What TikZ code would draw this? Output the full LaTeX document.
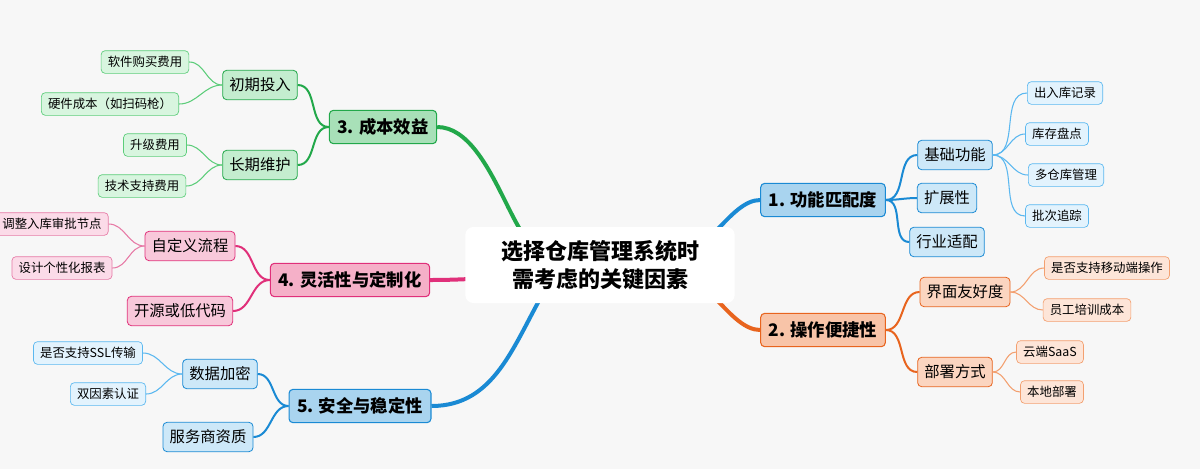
\documentclass[tikz,border=0pt]{standalone}
\usepackage{fontspec}
\setmainfont{Noto Sans CJK SC}
\definecolor{bgc}{HTML}{F7F7F7}
\definecolor{blueline}{HTML}{1A8AD4}
\definecolor{bluefill}{HTML}{A9D4EF}
\definecolor{bluekid}{HTML}{CDE8F8}
\definecolor{blueleaf}{HTML}{E3F3FD}
\definecolor{blueleafline}{HTML}{5BB8F0}
\definecolor{orgline}{HTML}{E8641E}
\definecolor{orgfill}{HTML}{F8C4A8}
\definecolor{orgkid}{HTML}{FBD5C0}
\definecolor{orgleaf}{HTML}{FDE5D8}
\definecolor{orgleafline}{HTML}{F3A070}
\definecolor{grnline}{HTML}{22A84A}
\definecolor{grnfill}{HTML}{A8E0B8}
\definecolor{grnkid}{HTML}{C4EDCF}
\definecolor{grnleaf}{HTML}{D8F5DF}
\definecolor{grnleafline}{HTML}{5CCD7A}
\definecolor{pnkline}{HTML}{E0307A}
\definecolor{pnkfill}{HTML}{F5B0C8}
\definecolor{pnkkid}{HTML}{F8C8DA}
\definecolor{pnkleaf}{HTML}{FBDBE8}
\definecolor{pnkleafline}{HTML}{E77AA6}
\begin{document}
\begin{tikzpicture}[x=0.75pt,y=-0.75pt,
    centerbox/.style={draw=none,fill=white,rounded corners=6pt,align=center,
        font=\fontsize{16.5}{21}\selectfont\bfseries,minimum width=202pt,minimum height=57pt},
    branchbox/.style={draw=#1line,fill=#1fill,line width=0.8pt,rounded corners=3pt,
        font=\fontsize{13}{15}\selectfont\bfseries,minimum height=25pt,inner xsep=6pt},
    kidbox/.style={draw=#1line,fill=#1kid,line width=0.6pt,rounded corners=3pt,
        font=\fontsize{11.5}{13}\selectfont,minimum height=22pt,inner xsep=5pt},
    leafbox/.style={draw=#1leafline,fill=#1leaf,line width=0.5pt,rounded corners=3pt,
        font=\fontsize{9.3}{11}\selectfont,minimum height=17pt,inner xsep=5pt},
    mainlink/.style={draw=#1line,line width=3pt},
    kidlink/.style={draw=#1line,line width=1.5pt},
    leaflink/.style={draw=#1leafline,line width=0.8pt}]

% Background
\fill[bgc] (0,0) rectangle (1200,469);
\useasboundingbox (0,0) rectangle (1200,469);

% Branches
\node[branchbox=blue] (b1) at (823,200) {1. 功能匹配度};
\node[branchbox=org] (b2) at (823,330) {2. 操作便捷性};
\node[branchbox=grn] (b3) at (383,127) {3. 成本效益};
\node[branchbox=pnk] (b4) at (350,280) {4. 灵活性与定制化};
\node[branchbox=blue] (b5) at (360,406) {5. 安全与稳定性};

% Children of 1
\node[kidbox=blue] (k11) at (955,155) {基础功能};
\node[kidbox=blue] (k12) at (947,198) {扩展性};
\node[kidbox=blue] (k13) at (947,242) {行业适配};
\node[leafbox=blue] (l111) at (1065,93) {出入库记录};
\node[leafbox=blue] (l112) at (1057,134) {库存盘点};
\node[leafbox=blue] (l113) at (1066,175) {多仓库管理};
\node[leafbox=blue] (l114) at (1057,216) {批次追踪};

% Children of 2
\node[kidbox=org] (k21) at (965,292) {界面友好度};
\node[kidbox=org] (k22) at (955,372) {部署方式};
\node[leafbox=org] (l211) at (1107,268) {是否支持移动端操作};
\node[leafbox=org] (l212) at (1087,310) {员工培训成本};
\node[leafbox=org] (l221) at (1050,352) {云端SaaS};
\node[leafbox=org] (l222) at (1052,392) {本地部署};

% Children of 3
\node[kidbox=grn] (k31) at (260,85) {初期投入};
\node[kidbox=grn] (k32) at (260,165) {长期维护};
\node[leafbox=grn] (l311) at (145,62) {软件购买费用};
\node[leafbox=grn] (l312) at (110,104) {硬件成本（如扫码枪）};
\node[leafbox=grn] (l321) at (155,145) {升级费用};
\node[leafbox=grn] (l322) at (142,186) {技术支持费用};

% Children of 4
\node[kidbox=pnk] (k41) at (190,246) {自定义流程};
\node[kidbox=pnk] (k42) at (180,311) {开源或低代码};
\node[leafbox=pnk] (l411) at (52,224) {调整入库审批节点};
\node[leafbox=pnk] (l412) at (62,268) {设计个性化报表};

% Children of 5
\node[kidbox=blue] (k51) at (220,374) {数据加密};
\node[kidbox=blue] (k52) at (208,437) {服务商资质};
\node[leafbox=blue] (l511) at (88,353) {是否支持SSL传输};
\node[leafbox=blue] (l512) at (108,394) {双因素认证};

% Main links
\path[mainlink=blue] (690,235) to[out=-60,in=180] (b1.west);
\path[mainlink=org] (690,295) to[out=60,in=180] (b2.west);
\path[mainlink=grn] (550,235) to[out=-120,in=0] (b3.east);
\path[mainlink=pnk] (560,275) to[out=180,in=0] (b4.east);
\path[mainlink=blue] (545,290) to[out=-120,in=0] (b5.east);

% Center
\node[centerbox] (c) at (600,265) {选择仓库管理系统时\\需考虑的关键因素};

% Child links
\foreach \k in {k11,k12,k13} \path[kidlink=blue] (b1.east) to[out=0,in=180] (\k.west);
\foreach \k in {k21,k22} \path[kidlink=org] (b2.east) to[out=0,in=180] (\k.west);
\foreach \k in {k31,k32} \path[kidlink=grn] (b3.west) to[out=180,in=0] (\k.east);
\foreach \k in {k41,k42} \path[kidlink=pnk] (b4.west) to[out=180,in=0] (\k.east);
\foreach \k in {k51,k52} \path[kidlink=blue] (b5.west) to[out=180,in=0] (\k.east);

% Leaf links
\foreach \l in {l111,l112,l113,l114} \path[leaflink=blue] (k11.east) to[out=0,in=180] (\l.west);
\foreach \l in {l211,l212} \path[leaflink=org] (k21.east) to[out=0,in=180] (\l.west);
\foreach \l in {l221,l222} \path[leaflink=org] (k22.east) to[out=0,in=180] (\l.west);
\foreach \l in {l311,l312} \path[leaflink=grn] (k31.west) to[out=180,in=0] (\l.east);
\foreach \l in {l321,l322} \path[leaflink=grn] (k32.west) to[out=180,in=0] (\l.east);
\foreach \l in {l411,l412} \path[leaflink=pnk] (k41.west) to[out=180,in=0] (\l.east);
\foreach \l in {l511,l512} \path[leaflink=blue] (k51.west) to[out=180,in=0] (\l.east);
\end{tikzpicture}
\end{document}
